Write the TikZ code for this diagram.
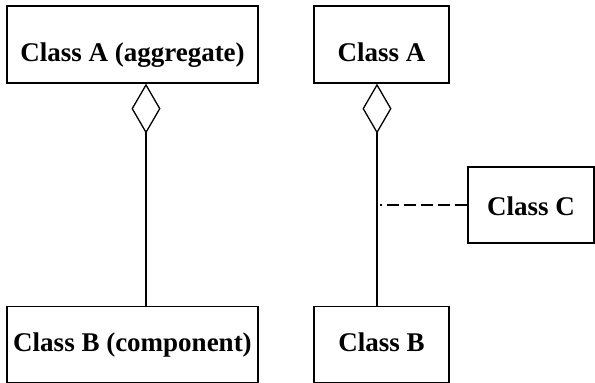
\documentclass[tikz,border=0pt]{standalone}
\usepackage{fontspec}
\setmainfont{Liberation Serif}
\usetikzlibrary{arrows.meta}
\begin{document}
\begin{tikzpicture}[x=1pt,y=-1pt,
  cls/.style={draw, line width=1.3pt, rectangle, inner sep=0pt, text depth=0pt, font=\fontsize{27}{30}\selectfont\bfseries},
  agg/.style={line width=1.3pt, {Diamond[open,length=50pt,width=29pt]}-},
  assoc/.style={line width=1.3pt, dash pattern=on 12pt off 5pt}]
\useasboundingbox (0,0) rectangle (595,383);
\node[cls, text height=33pt, minimum width=251pt, minimum height=77pt] (A1) at (132.5,44.5) {Class A (aggregate)};
\node[cls, text height=14pt, minimum width=251pt, minimum height=76pt] (B1) at (132.5,344.5) {Class B (component)};
\node[cls, text height=33pt, minimum width=135pt, minimum height=77pt] (A2) at (381.5,44.5) {Class A};
\node[cls, text height=14pt, minimum width=135pt, minimum height=76pt] (B2) at (381.5,344.5) {Class B};
\node[cls, text height=20pt, minimum width=126pt, minimum height=76pt] (C) at (531,205) {Class C};
\coordinate (d1) at (146,0);
\coordinate (d2) at (377,0);
\coordinate (j) at (380,205);
\draw[agg] (A1.south -| d1) -- (B1.north -| d1);
\draw[agg] (A2.south -| d2) -- (B2.north -| d2);
\draw[assoc] (C.west) -- (j);
\end{tikzpicture}
\end{document}
